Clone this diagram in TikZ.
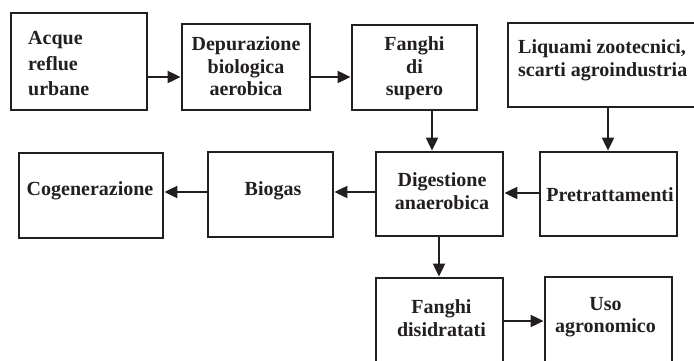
\documentclass[tikz,border=0pt]{standalone}
\usepackage{fontspec}
\setmainfont{Liberation Serif}
\usetikzlibrary{arrows.meta}
\definecolor{ink}{HTML}{231F20}
\begin{document}
\begin{tikzpicture}[x=1pt,y=-1pt,
  box/.style={draw=ink, line width=2.8pt, rectangle, inner sep=0pt},
  txt/.style={inner sep=0pt, text=ink, text depth=0pt, font=\bfseries\fontsize{20}{22.5}\selectfont},
  arr/.style={draw=ink, line width=2pt, -{Triangle[length=13pt,width=12pt]}}]
\useasboundingbox (0,0) rectangle (694,360);
\fill[white] (0,0) rectangle (694,360);
\clip (0,0) rectangle (694,360);
% boxes
\node[box, minimum width=136pt, minimum height=97pt] (acque) at (79,61.5) {};
\node[box, minimum width=128pt, minimum height=86pt] (depur) at (246,67) {};
\node[box, minimum width=125pt, minimum height=85pt] (fanghi) at (414.5,67.5) {};
\node[box, minimum width=212pt, minimum height=84pt] (liquami) at (614,65) {};
\node[box, minimum width=144pt, minimum height=85pt] (cog) at (91,195.5) {};
\node[box, minimum width=125pt, minimum height=85pt] (biogas) at (270.5,194.5) {};
\node[box, minimum width=127pt, minimum height=84pt] (dig) at (439.5,194) {};
\node[box, minimum width=137pt, minimum height=84pt] (pret) at (608.5,194) {};
\node[box, minimum width=127pt, minimum height=102pt] (fdis) at (439.5,329) {};
\node[box, minimum width=127pt, minimum height=103pt] (uso) at (608.5,328.5) {};
% texts
\node[txt, align=left, anchor=west, font=\bfseries\fontsize{20}{25.5}\selectfont] (acqueT) at (28,63.6) {Acque\\reflue\\urbane};
\node[txt, align=center] (depurT) at (246,66.5) {Depurazione\\biologica\\aerobica};
\node[txt, align=center] (fanghiT) at (414.5,66.5) {Fanghi\\di\\supero};
\node[txt, align=left, anchor=west, font=\bfseries\fontsize{20}{23}\selectfont] (liquamiT) at (518,57.8) {Liquami zootecnici,\\scarti agroindustria};
\node[txt] (cogT) at (90,189) {Cogenerazione};
\node[txt] (biogasT) at (273,189) {Biogas};
\node[txt, align=center] (digT) at (442,191) {Digestione\\anaerobica};
\node[txt] (pretT) at (610,195) {Pretrattamenti};
\node[txt, align=center] (fdisT) at (441.5,318) {Fanghi\\disidratati};
\node[txt, align=center] (usoT) at (605.5,315) {Uso\\agronomico};
% connector rows / columns
\coordinate (r1) at (0,77);
\coordinate (c1) at (432,0);
\coordinate (c2) at (608,0);
\coordinate (r2) at (0,193);
\coordinate (r3) at (0,192);
\coordinate (c3) at (439,0);
\coordinate (r4) at (0,321);
% connectors
\draw[arr] (acque.east |- r1) -- (depur.west |- r1);
\draw[arr] (depur.east |- r1) -- (fanghi.west |- r1);
\draw[arr] (c1 |- fanghi.south) -- (c1 |- dig.north);
\draw[arr] (c2 |- liquami.south) -- (c2 |- pret.north);
\draw[arr] (pret.west |- r2) -- (dig.east |- r2);
\draw[arr] (dig.west |- r3) -- (biogas.east |- r3);
\draw[arr] (biogas.west |- r3) -- (cog.east |- r3);
\draw[arr] (c3 |- dig.south) -- (c3 |- fdis.north);
\draw[arr] (fdis.east |- r4) -- (uso.west |- r4);
\end{tikzpicture}
\end{document}
